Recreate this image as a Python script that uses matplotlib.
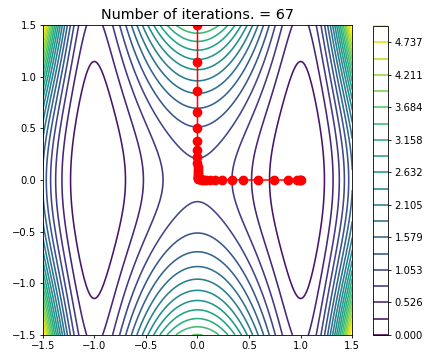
import numpy as np
import matplotlib
matplotlib.use("Agg")
import matplotlib.pyplot as plt

# Surface: f(x, y) = a*(x^2 - 1)^2 * (1 + y^2) + b*y^2
coef_a = 1.0
coef_b = 0.2
x_range = (-1.5, 1.5)
y_range = (-1.5, 1.5)
n_levels = 20
level_max = 5.0

# Gradient-descent iterates (x, y)
path_x = [0.000, 0.000, 0.000, 0.000, 0.000, 0.000, 0.000, 0.000, 0.000,
          0.001, 0.001, 0.001, 0.002, 0.002, 0.003, 0.004, 0.006, 0.008,
          0.012, 0.016, 0.023, 0.032, 0.044, 0.062, 0.087, 0.121, 0.168,
          0.234, 0.331, 0.444, 0.589, 0.744, 0.874, 0.961, 0.990, 0.998,
          1.000]
path_y = [1.500, 1.140, 0.866, 0.658, 0.500, 0.380, 0.289, 0.220, 0.167,
          0.127, 0.096, 0.073, 0.056, 0.042, 0.032, 0.024, 0.019, 0.014,
          0.011, 0.008, 0.006, 0.005, 0.004, 0.003, 0.002, 0.002, 0.001,
          0.001, 0.001, 0.001, 0.000, 0.000, 0.000, 0.000, 0.000, 0.000,
          0.000]
n_iter = 67


def surface(x, y):
    return coef_a * (x**2 - 1) ** 2 * (1 + y**2) + coef_b * y**2


xs = np.linspace(*x_range, 301)
ys = np.linspace(*y_range, 301)
X, Y = np.meshgrid(xs, ys)
Z = surface(X, Y)
levels = np.linspace(0, level_max, n_levels)

W, H = 431, 354
fig = plt.figure(figsize=(W / 100, H / 100), dpi=100)
ax = fig.add_axes([42.7 / W, 1 - 335 / H, 309.6 / W, 310 / H])
cax = fig.add_axes([372.7 / W, 1 - 335 / H, 15.6 / W, 309 / H])

cs = ax.contour(X, Y, Z, levels=levels, cmap="viridis", linewidths=1.15)
ax.plot(path_x, path_y, "o-", color="red", markersize=6.0, linewidth=1.1)
ax.set_xlim(*x_range)
ax.set_ylim(*y_range)
ax.set_xticks(np.arange(-1.5, 1.51, 0.5))
ax.set_yticks(np.arange(-1.5, 1.51, 0.5))
ax.set_title(f"Number of iterations. = {n_iter}", fontsize=10.4, pad=4)
ax.tick_params(labelsize=7.2, length=2.5, width=0.6, pad=2)
for s in ax.spines.values():
    s.set_linewidth(0.6)

cb = fig.colorbar(cs, cax=cax)
cb.ax.tick_params(labelsize=7.2, length=2.5, width=0.6, pad=2)
cb.outline.set_linewidth(0.6)

fig.savefig("out.png", dpi=100)
